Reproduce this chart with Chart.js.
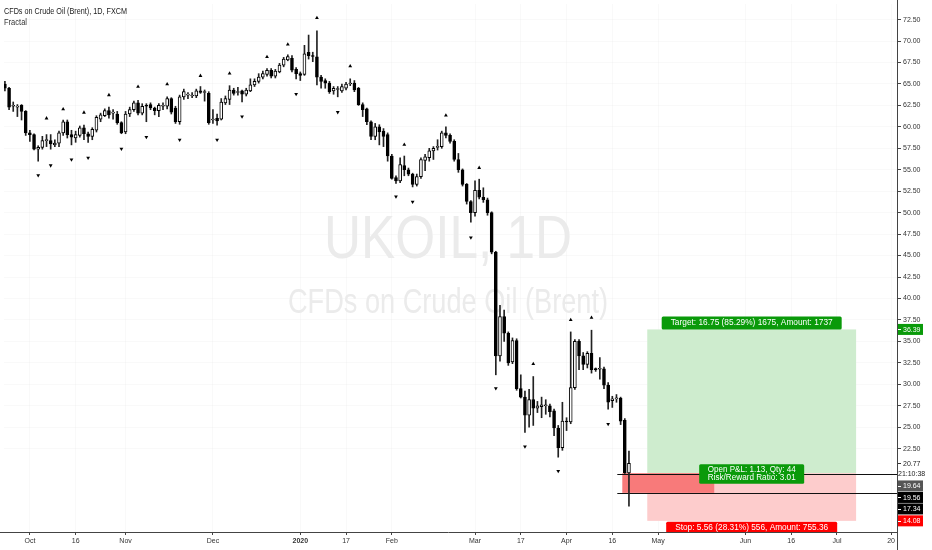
<!DOCTYPE html>
<html>
<head>
<meta charset="utf-8">
<script src="https://cdn.jsdelivr.net/npm/chart.js@4.4.1/dist/chart.umd.min.js"></script>
<style>
html, body { margin: 0; padding: 0; background: #fff; }
#wrap { width: 932px; height: 550px; position: relative; }
</style>
</head>
<body>
<div id="wrap"><canvas id="myChart"></canvas></div>
<script>
// daily candles, index 0 = 23 Sep 2019 ... 150 = 22 Apr 2020
const opens = [65.0,64.5,62.4,62.3,62.5,61.8,59.3,59.1,57.4,57.6,58.4,58.4,57.9,58.1,59.3,60.6,59.1,58.7,59.0,59.9,
  59.2,58.9,59.6,60.9,61.3,61.9,61.6,61.5,60.5,59.4,61.5,62.0,62.8,61.6,62.5,62.6,62.2,61.9,62.4,62.4,
  63.3,62.2,60.6,63.5,63.7,63.6,63.6,64.2,64.0,63.9,60.8,61.0,60.9,62.8,63.2,64.3,64.0,64.2,63.8,64.2,
  64.9,65.3,65.8,66.1,66.6,65.9,66.4,67.2,67.8,68.0,66.7,66.2,66.1,68.7,68.3,68.15,65.8,65.4,65.1,64.2,
  64.35,64.2,64.5,65.0,65.1,64.5,62.6,62.1,60.6,58.9,60.0,59.5,59.1,56.6,54.1,53.7,55.5,55.0,54.5,53.3,
  54.2,56.1,56.4,57.2,57.6,57.7,59.3,59.0,58.3,56.2,55.0,53.3,51.3,50.0,52.6,51.8,51.5,50.0,45.4,33.3,
  37.9,35.95,32.6,35.1,29.5,28.5,26.4,28.2,27.2,27.4,27.5,27.5,26.9,24.9,22.6,25.7,25.6,29.6,35.0,33.3,
  32.3,33.6,31.8,31.75,31.8,29.9,28.1,28.3,28.4,25.8,19.66];
const highs = [65.3,64.6,62.9,62.6,62.6,61.9,59.6,59.2,57.8,58.9,59.1,59.1,58.5,59.5,60.8,60.8,59.6,59.5,60.1,60.2,
  59.4,59.9,61.3,61.6,62.1,62.3,62.0,61.8,60.6,61.8,62.3,63.0,63.1,62.7,62.7,62.8,62.3,62.7,62.8,63.5,
  63.4,62.4,63.7,64.4,64.0,64.0,64.4,64.7,64.3,64.1,62.0,61.5,63.3,63.6,64.8,64.5,64.6,64.3,64.5,65.6,
  65.6,66.2,66.5,66.8,66.8,66.7,67.4,68.1,68.4,68.3,66.9,66.4,69.5,70.7,68.7,71.2,66.0,65.6,65.3,64.7,
  64.7,65.0,65.2,65.6,65.4,64.6,62.8,62.2,60.7,60.4,60.25,59.8,59.3,56.8,54.3,56.4,56.6,55.2,54.6,54.5,
  56.4,56.8,57.5,57.7,58.5,59.5,60.0,59.2,58.5,56.9,55.1,53.4,51.4,53.7,53.9,52.9,51.7,50.1,45.5,39.2,
  38.65,36.1,35.4,35.3,31.1,29.2,29.4,30.9,28.0,28.5,28.2,27.7,27.1,25.2,27.9,26.1,36.1,35.2,35.2,33.7,
  33.8,36.3,31.9,33.1,32.0,30.2,28.6,28.8,28.5,26.0,22.2];
const lows = [64.2,62.0,61.8,61.2,60.8,59.0,58.3,57.3,56.0,57.4,57.7,57.4,57.7,57.7,59.0,58.7,57.9,58.2,58.8,58.5,
  58.2,58.5,59.4,60.6,61.2,61.0,60.9,60.3,59.2,59.2,61.2,61.8,61.4,61.4,60.6,62.0,61.4,61.2,62.0,62.1,
  61.5,60.4,60.3,63.2,63.3,63.4,63.4,63.9,63.0,60.3,60.4,60.2,60.8,62.6,62.6,63.7,63.7,62.9,63.6,64.1,
  64.7,65.1,65.6,65.9,65.7,65.7,66.3,67.0,67.7,66.4,65.6,65.4,66.0,67.9,67.6,64.9,64.5,64.5,63.9,63.8,
  63.5,64.0,64.3,64.8,64.1,62.5,61.2,60.25,58.5,58.5,57.9,57.7,56.0,53.9,53.4,53.5,54.3,54.3,53.0,53.1,
  54.0,54.9,56.0,56.2,57.3,57.5,58.7,58.1,56.0,54.7,53.1,51.0,48.9,49.6,51.6,51.2,49.7,45.2,31.1,32.7,
  35.0,32.2,32.4,29.3,28.4,24.4,25.0,25.2,26.7,26.1,26.5,26.2,24.0,21.5,22.3,24.6,25.4,29.4,31.7,31.7,
  31.9,31.3,31.5,30.6,29.5,27.1,27.3,27.9,25.3,19.6,15.8];
const closes = [64.5,62.3,62.5,62.4,61.8,59.3,59.1,57.4,57.6,58.4,58.5,58.0,58.1,59.3,60.6,59.1,58.8,59.1,59.9,59.2,
  58.9,59.7,61.1,61.4,61.9,61.4,61.7,60.5,59.3,61.5,62.0,62.8,61.6,62.4,62.4,62.2,61.9,62.5,62.5,63.3,
  61.7,60.6,63.5,64.1,63.8,63.7,64.2,64.0,64.1,60.5,60.9,60.7,62.9,63.3,64.3,63.9,64.1,63.8,64.3,64.9,
  65.3,65.8,66.2,66.6,65.9,66.5,67.2,67.9,68.2,66.6,66.2,66.0,68.5,68.3,68.2,65.8,65.3,65.1,64.1,64.5,
  64.45,64.7,65.0,65.1,64.3,62.6,62.0,60.6,58.9,60.0,59.4,58.9,56.6,54.0,53.7,55.6,55.0,54.5,53.3,54.2,
  56.2,56.5,57.2,57.5,57.7,59.3,59.0,58.3,56.2,55.0,53.3,51.3,50.0,52.6,51.8,51.5,50.0,45.4,33.3,37.9,
  35.95,32.5,35.1,29.5,28.5,26.4,28.2,27.2,27.5,27.6,27.6,26.8,24.9,22.6,25.7,25.6,29.6,35.0,33.3,32.3,
  33.6,31.7,31.7,31.85,29.9,27.9,28.3,28.4,25.7,19.66,20.77];

// Williams fractal markers
const fractalUpIdx = [10,14,19,25,32,39,47,54,63,68,75,83,96,106,114,127,136,141];
const fractalUpVal = [61.0,62.06,61.67,63.71,64.68,64.98,65.95,66.22,68.15,69.61,72.7,67.07,57.93,61.33,55.23,32.37,37.5,37.77];
const fractalDownIdx = [8,11,16,20,28,34,42,51,57,70,80,94,98,112,118,125,133,145];
const fractalDownVal = [54.34,55.5,56.19,56.39,57.43,58.82,58.5,58.5,61.21,63.83,61.71,51.88,51.26,47.1,29.52,22.73,19.88,25.36];

const xTickIdx = [6,17,29,50,71,82,93,113,124,135,146,157,178,189,200,213];
const xTickText = ['Oct','16','Nov','Dec','2020','17','Feb','Mar','17','Apr','16','May','Jun','16','Jul','20'];
const yTicks = [22.5,25,27.5,30,32.5,35,37.5,40,42.5,45,47.5,50,52.5,55,57.5,60,62.5,65,67.5,70,72.5];

// long position tool
const entry = 19.64, target = 36.39, stop = 14.08;
const hLines = [19.56, 17.34];
const lastPrice = 20.77;

const FONT = '"Liberation Sans", Arial, sans-serif';

const overlay = {
  id: 'overlay',
  beforeDatasetsDraw(chart) {
    const {ctx, chartArea: a, scales: {x, y}} = chart;
    ctx.save();
    ctx.beginPath();
    ctx.rect(a.left, a.top, a.right - a.left, a.bottom - a.top);
    ctx.clip();

    // watermark
    ctx.fillStyle = '#ebebeb';
    ctx.textAlign = 'center';
    ctx.textBaseline = 'alphabetic';
    ctx.font = '62px ' + FONT;
    ctx.fillText('UKOIL, 1D', 448, 258, 248);
    ctx.font = '35px ' + FONT;
    ctx.fillText('CFDs on Crude Oil (Brent)', 448, 313, 320);

    // position zones
    const x0 = x.getPixelForValue(154.4), x1 = x.getPixelForValue(204.6);
    const yT = y.getPixelForValue(target), yE = y.getPixelForValue(entry), yS = y.getPixelForValue(stop);
    ctx.fillStyle = 'rgb(206,236,206)';
    ctx.fillRect(x0, yT, x1 - x0, yE - yT);
    ctx.fillStyle = 'rgb(253,204,204)';
    ctx.fillRect(x0, yE, x1 - x0, yS - yE);
    const r0 = x.getPixelForValue(148.4), r1 = x.getPixelForValue(170.5);
    const yB = y.getPixelForValue(hLines[1]);
    ctx.fillStyle = 'rgb(248,122,122)';
    ctx.fillRect(r0, yE, r1 - r0, yB - yE);

    // horizontal lines
    ctx.strokeStyle = '#111';
    ctx.lineWidth = 1;
    const l0 = x.getPixelForValue(147.2);
    hLines.forEach(v => {
      const yy = Math.round(y.getPixelForValue(v)) + 0.5;
      ctx.beginPath();
      ctx.moveTo(l0, yy);
      ctx.lineTo(a.right, yy);
      ctx.stroke();
    });
    ctx.restore();
  },
  afterDraw(chart) {
    const {ctx, chartArea: a, scales: {x, y}} = chart;
    ctx.save();

    // title
    ctx.textAlign = 'left';
    ctx.textBaseline = 'alphabetic';
    ctx.fillStyle = '#222';
    ctx.font = '9px ' + FONT;
    ctx.fillText('CFDs on Crude Oil (Brent), 1D, FXCM', 4, 14, 123);
    ctx.fillStyle = '#333';
    ctx.fillText('Fractal', 4, 25, 23);

    // position labels
    const mid = (x.getPixelForValue(154.4) + x.getPixelForValue(204.6)) / 2;
    const yT = y.getPixelForValue(target), yE = y.getPixelForValue(entry), yS = y.getPixelForValue(stop);
    const box = (cx, top, w, h, bg) => {
      ctx.fillStyle = bg;
      ctx.beginPath();
      ctx.roundRect(cx - w / 2, top, w, h, 1.5);
      ctx.fill();
    };
    ctx.textAlign = 'center';
    ctx.textBaseline = 'middle';
    ctx.font = '8.5px ' + FONT;
    box(mid, yT - 13, 180, 13, '#0a9a0a');
    ctx.fillStyle = '#fff';
    ctx.fillText('Target: 16.75 (85.29%) 1675, Amount: 1737', mid, yT - 6.3, 162);
    box(mid, yE - 9, 105, 19.5, '#0a9a0a');
    ctx.fillStyle = '#fff';
    ctx.fillText('Open P&L: 1.13, Qty: 44', mid, yE - 3.8, 88);
    ctx.fillText('Risk/Reward Ratio: 3.01', mid, yE + 4.8, 88);
    box(mid, yS + 1, 171, 11, '#ff0000');
    ctx.fillStyle = '#fff';
    ctx.fillText('Stop: 5.56 (28.31%) 556, Amount: 755.36', mid, yS + 6.6, 153);

    // right axis price tags, stacked like the original
    const bx = a.right + 1, bw = 25, bh = 11;
    ctx.textAlign = 'left';
    ctx.font = '7px ' + FONT;
    const tag = (cy, text, bg, fg) => {
      if (bg) { ctx.fillStyle = bg; ctx.fillRect(bx, cy - bh / 2, bw, bh); }
      ctx.fillStyle = fg;
      ctx.fillText(text, a.right + 6, cy + 0.5);
      ctx.strokeStyle = fg === '#fff' ? '#fff' : '#333';
      ctx.beginPath();
      ctx.moveTo(a.right, Math.round(cy) + 0.5);
      ctx.lineTo(a.right + 4, Math.round(cy) + 0.5);
      ctx.stroke();
    };
    tag(yT, target.toFixed(2), '#0a9a0a', '#fff');
    let cy = y.getPixelForValue(lastPrice);
    tag(cy, lastPrice.toFixed(2), '#fff', '#222');
    ctx.fillStyle = '#222';
    ctx.fillText('21:10:38', a.right + 1, cy + 10.5);
    let bottom = cy + 16.5;
    [[entry, '#555'], [hLines[0], '#000'], [hLines[1], '#000'], [stop, '#ff0000']].forEach(([v, bg]) => {
      const c = Math.max(y.getPixelForValue(v), bottom + bh / 2 + 0.5);
      tag(c, v.toFixed(2), bg, '#fff');
      bottom = c + bh / 2;
    });

    // axis lines
    ctx.strokeStyle = '#444';
    ctx.lineWidth = 1;
    ctx.beginPath();
    ctx.moveTo(a.right + 0.5, 0);
    ctx.lineTo(a.right + 0.5, chart.height);
    ctx.moveTo(0, a.bottom + 0.5);
    ctx.lineTo(a.right, a.bottom + 0.5);
    ctx.stroke();
    ctx.restore();
  }
};

const bodies = opens.map((o, i) => ({x: i, y: [o, closes[i]]}));
const wicks = lows.map((l, i) => ({x: i, y: [l, highs[i]]}));
const upCol = closes.map((c, i) => c >= opens[i] ? '#fff' : '#000');

const ctx = document.getElementById('myChart').getContext('2d');
const myChart = new Chart(ctx, {
  type: 'bar',
  data: {
    datasets: [
      { type: 'scatter', data: fractalUpIdx.map((v, k) => ({x: v, y: fractalUpVal[k]})),
        pointStyle: 'triangle', radius: 2.2, backgroundColor: '#000', borderWidth: 0, order: 0 },
      { type: 'scatter', data: fractalDownIdx.map((v, k) => ({x: v, y: fractalDownVal[k]})),
        pointStyle: 'triangle', rotation: 180, radius: 2.2, backgroundColor: '#000', borderWidth: 0, order: 0 },
      { data: bodies, backgroundColor: upCol, borderColor: '#000', borderWidth: 1,
        borderSkipped: false, barThickness: 3, minBarLength: 1, grouped: false, order: 1 },
      { data: wicks, backgroundColor: '#222', barThickness: 1, grouped: false, order: 2 },
    ],
  },
  options: {
    responsive: true,
    maintainAspectRatio: false,
    animation: false,
    layout: { padding: 0 },
    plugins: { legend: { display: false }, tooltip: { enabled: false } },
    scales: {
      x: {
        type: 'linear',
        min: -0.22,
        max: 214.43,
        offset: false,
        afterBuildTicks: s => { s.ticks = xTickIdx.map(v => ({value: v})); },
        afterFit: s => { s.height = 18; s.paddingLeft = 0; s.paddingRight = 0; },
        ticks: {
          autoSkip: false,
          maxRotation: 0,
          padding: 2,
          color: '#333',
          font: c => ({ size: 7, family: FONT, weight: c.index === 4 ? 'bold' : 'normal' }),
          callback: (v, i) => xTickText[i],
        },
        grid: { offset: false, color: 'rgba(0,0,0,0.025)', tickLength: 3, tickColor: '#444' },
        border: { display: false },
      },
      y: {
        position: 'right',
        min: 12.78,
        max: 74.32,
        afterBuildTicks: s => { s.ticks = yTicks.map(v => ({value: v})); },
        afterFit: s => { s.width = 35; s.paddingTop = 0; s.paddingBottom = 0; },
        ticks: {
          padding: 2,
          color: '#333',
          font: { size: 7, family: FONT },
          callback: v => v.toFixed(2),
        },
        grid: { color: 'rgba(0,0,0,0.025)', tickLength: 4, tickColor: '#444' },
        border: { display: false },
      },
    },
  },
  plugins: [overlay],
});
</script>
</body>
</html>
